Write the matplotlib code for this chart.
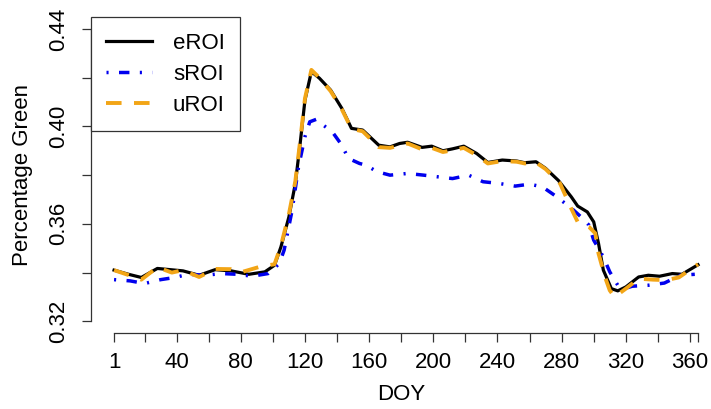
import matplotlib
matplotlib.use("Agg")
import matplotlib.pyplot as plt

# values
e_doy = [1, 10, 18, 28, 36, 44, 54, 64, 74, 85, 95, 101, 105, 110, 114, 117, 120, 124,
         129, 136, 143, 149, 156, 166, 173, 179, 184, 193, 199, 206, 212, 219, 227, 234,
         243, 252, 257, 264, 270, 278, 286, 290, 296, 300, 303, 306, 311, 315, 320, 328,
         334, 341, 349, 355, 365]
e_roi = [0.3410, 0.3393, 0.3380, 0.3417, 0.3412, 0.3407, 0.3389, 0.3412, 0.3407, 0.3393,
         0.3403, 0.3430, 0.3505, 0.3629, 0.3766, 0.3930, 0.4108, 0.4225, 0.4198, 0.4149,
         0.4074, 0.3992, 0.3985, 0.3923, 0.3916, 0.3930, 0.3935, 0.3914, 0.3919, 0.3900,
         0.3908, 0.3919, 0.3889, 0.3852, 0.3862, 0.3858, 0.3851, 0.3855, 0.3828, 0.3778,
         0.3711, 0.3673, 0.3649, 0.3608, 0.3519, 0.3410, 0.3334, 0.3325, 0.3341, 0.3382,
         0.3389, 0.3385, 0.3396, 0.3393, 0.3432]

s_doy = [1, 11, 20, 30, 39, 47, 58, 68, 78, 87, 97, 104, 107, 112, 116, 120, 123, 127,
         130, 137, 143, 147, 154, 158, 165, 173, 184, 194, 203, 212, 222, 231, 241, 251,
         260, 268, 277, 287, 292, 297, 300, 306, 310, 315, 319, 324, 334, 344, 354, 363]
s_roi = [0.3371, 0.3366, 0.3355, 0.3371, 0.3380, 0.3393, 0.3389, 0.3396, 0.3393, 0.3385,
         0.3396, 0.3437, 0.3492, 0.3656, 0.3834, 0.3958, 0.4019, 0.4029, 0.4012, 0.3978,
         0.3923, 0.3869, 0.3848, 0.3841, 0.3814, 0.3800, 0.3807, 0.3800, 0.3793, 0.3786,
         0.3800, 0.3773, 0.3766, 0.3755, 0.3763, 0.3752, 0.3711, 0.3659, 0.3629, 0.3595,
         0.3533, 0.3464, 0.3403, 0.3348, 0.3334, 0.3344, 0.3348, 0.3357, 0.3389, 0.3393]

u_doy = [1, 10, 18, 28, 37, 44, 54, 64, 74, 81, 93, 101, 105, 110, 114, 117, 120, 124,
         129, 136, 143, 149, 156, 166, 173, 179, 184, 193, 199, 206, 212, 219, 227, 234,
         243, 252, 257, 264, 270, 279, 286, 290, 297, 301, 303, 307, 310, 313, 320, 328,
         337, 345, 353, 365]
u_roi = [0.3410, 0.3390, 0.3371, 0.3422, 0.3400, 0.3410, 0.3382, 0.3415, 0.3414, 0.3403,
         0.3426, 0.3434, 0.3510, 0.3640, 0.3775, 0.3940, 0.4115, 0.4232, 0.4200, 0.4145,
         0.4070, 0.3990, 0.3980, 0.3915, 0.3912, 0.3922, 0.3930, 0.3906, 0.3912, 0.3895,
         0.3902, 0.3912, 0.3882, 0.3848, 0.3858, 0.3855, 0.3848, 0.3852, 0.3825, 0.3766,
         0.3663, 0.3608, 0.3588, 0.3561, 0.3478, 0.3382, 0.3327, 0.3300, 0.3334, 0.3375,
         0.3371, 0.3369, 0.3380, 0.3434]

x_ticks = [1] + list(range(20, 361, 20)) + [365]
x_labels = [str(t) if (t == 1 or (t % 40 == 0 and t <= 360)) else "" for t in x_ticks]
y_ticks = [0.32, 0.34, 0.36, 0.38, 0.40, 0.42, 0.44]
y_labels = ["0.32", "", "0.36", "", "0.40", "", "0.44"]

plt.rcParams['font.family'] = ['Liberation Sans', 'DejaVu Sans']
plt.rcParams['font.size'] = 16

fig = plt.figure(figsize=(7.11, 4.09), dpi=100)
W, H = 711, 409
left, right, bottom, top = 90.7, 711, 333, 17.3
ax = fig.add_axes([left / W, (H - bottom) / H, (right - left) / W, (bottom - top) / H])

ax.plot(e_doy, e_roi, color="black", lw=2.3, label="eROI")
ax.plot(s_doy, s_roi, color="#0000ee", lw=2.5, dashes=(0.6, 3, 3, 3), label="sROI")
ax.plot(u_doy, u_roi, color="#f2a516", lw=2.8, dashes=(4, 3.2), label="uROI")

ax.set_xlim(-13.56, 373.1)
ax.set_ylim(0.3152, 0.4448)

ax.set_xticks(x_ticks)
ax.set_xticklabels(x_labels)
ax.set_yticks(y_ticks)
ax.set_yticklabels(y_labels, rotation=90, va="center")

for s in ["top", "right"]:
    ax.spines[s].set_visible(False)
ax.spines["left"].set_bounds(0.32, 0.44)
ax.spines["bottom"].set_bounds(1, 365)
for s in ["left", "bottom"]:
    ax.spines[s].set_linewidth(0.9)
    ax.spines[s].set_color("#333333")

ax.tick_params(axis="both", length=6.5, width=0.9, color="#333333")
ax.tick_params(axis="x", pad=7)
ax.tick_params(axis="y", pad=9)

ax.set_xlabel("DOY", labelpad=8)
ax.set_ylabel("Percentage Green", labelpad=11)

leg = ax.legend(loc="upper left", bbox_to_anchor=(0, 1), borderaxespad=0,
                fancybox=False, edgecolor="#333333", framealpha=1,
                handlelength=2.05, handletextpad=0.95, labelspacing=0.45,
                borderpad=0.7)
leg.get_frame().set_linewidth(0.9)

fig.savefig("out.png", dpi=100)
